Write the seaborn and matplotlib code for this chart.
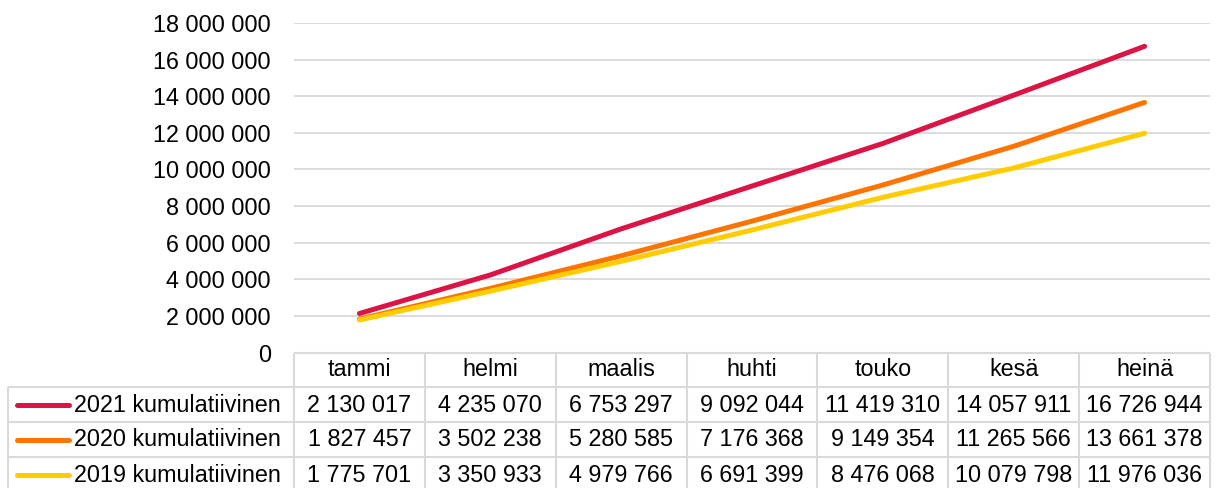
import numpy as np
import pandas as pd
import seaborn as sns
import matplotlib.pyplot as plt
from matplotlib.ticker import FuncFormatter
from matplotlib.transforms import blended_transform_factory

months = ["tammi", "helmi", "maalis", "huhti", "touko", "kesä", "heinä"]
series_names = ["2021 kumulatiivinen", "2020 kumulatiivinen", "2019 kumulatiivinen"]
v2021 = [2130017, 4235070, 6753297, 9092044, 11419310, 14057911, 16726944]
v2020 = [1827457, 3502238, 5280585, 7176368, 9149354, 11265566, 13661378]
v2019 = [1775701, 3350933, 4979766, 6691399, 8476068, 10079798, 11976036]
colors = ["#DC1446", "#FF7400", "#FFCC00"]
yticks = list(range(0, 18000001, 2000000))

sns.set_theme(style="white")
plt.rcParams['font.family'] = ['Liberation Sans', 'DejaVu Sans']

W, H = 1216, 488
fig = plt.figure(figsize=(W / 100, H / 100), dpi=100)
ax_l, ax_r, ax_t, ax_b = 294, 1210, 23, 352.5
ax = fig.add_axes([ax_l / W, 1 - ax_b / H, (ax_r - ax_l) / W, (ax_b - ax_t) / H])

all_vals = [v2021, v2020, v2019]
df = pd.DataFrame({
    "month": months * 3,
    "value": v2021 + v2020 + v2019,
    "series": sum([[s] * len(months) for s in series_names], []),
})
sns.lineplot(data=df, x="month", y="value", hue="series",
             palette=dict(zip(series_names, colors)), linewidth=3.6,
             legend=False, ax=ax, solid_capstyle="round", sort=False)

ax.set_xlim(-0.5, 6.5)
ax.set_ylim(0, 18000000)
ax.set_yticks(yticks)
fmt = lambda v: f"{int(v):,}".replace(",", " ")
ax.yaxis.set_major_formatter(FuncFormatter(lambda v, p: fmt(v)))
ax.set_xlabel("")
ax.set_ylabel("")
grid_c = "#d9d9d9"
ax.grid(axis="y", color=grid_c, lw=1.3)
ax.grid(axis="x", visible=False)
for s in ax.spines.values():
    s.set_visible(False)
ax.tick_params(axis="y", length=0, pad=16.5, labelsize=16.8, labelcolor="black")
ax.set_xticks(range(len(months)))
ax.set_xticklabels(months)
ax.tick_params(axis="x", length=0, pad=12, labelsize=16.8, labelcolor="black")
for lbl in ax.get_xticklabels():
    lbl.set_va("center")

# data table
tr = blended_transform_factory(ax.transData, ax.transAxes)
def yf(px):
    return (ax_b - px) / (ax_b - ax_t)
def xd(px):
    return -0.5 + (px - ax_l) / ((ax_r - ax_l) / 7)

row_edges = [352.5, 386.7, 421.5, 456.5, 491.5]
lk = dict(color=grid_c, lw=1.5, transform=tr, clip_on=False, solid_capstyle="butt")
ax.plot([-0.5, 6.5], [yf(row_edges[0])] * 2, **lk)
for y in row_edges[1:]:
    ax.plot([xd(8), 6.5], [yf(y)] * 2, **lk)
for i in range(8):
    ax.plot([i - 0.5] * 2, [yf(row_edges[0]), yf(row_edges[-1])], **lk)
ax.plot([xd(8)] * 2, [yf(row_edges[1]), yf(row_edges[-1])], **lk)

for r, (name, vals, c) in enumerate(zip(series_names, all_vals, colors)):
    yc = yf((row_edges[r + 1] + row_edges[r + 2]) / 2 + 1)
    ax.plot([xd(17), xd(69)], [yc, yc], color=c, lw=3.6, transform=tr,
            clip_on=False, solid_capstyle="round")
    ax.text(xd(74), yc, name, transform=tr, ha="left", va="center",
            fontsize=16.8, color="black")
    for i, v in enumerate(vals):
        ax.text(i, yc, fmt(v), transform=tr, ha="center", va="center",
                fontsize=16.8, color="black")

fig.savefig("out.png", dpi=100, facecolor="white")
